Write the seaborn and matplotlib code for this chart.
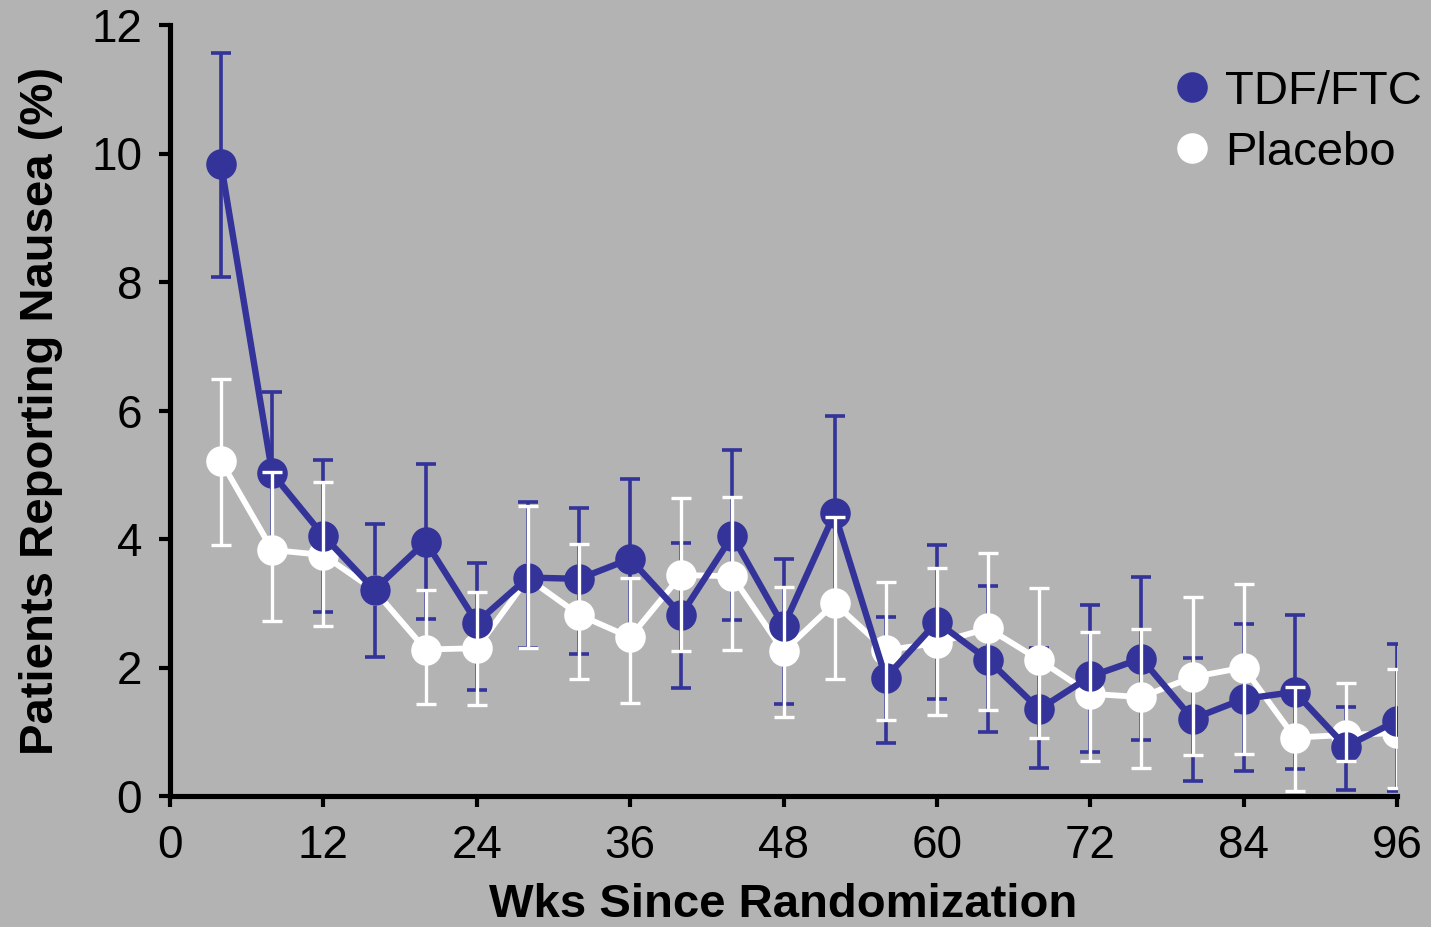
import numpy as np
import pandas as pd
import matplotlib
matplotlib.use("Agg")
import matplotlib.pyplot as plt
from matplotlib.lines import Line2D
import seaborn as sns

# ---- data ----
weeks = [4, 8, 12, 16, 20, 24, 28, 32, 36, 40, 44, 48,
         52, 56, 60, 64, 68, 72, 76, 80, 84, 88, 92, 96]

tdf = [9.83, 5.02, 4.05, 3.21, 3.96, 2.70, 3.40, 3.38, 3.69, 2.82, 4.05, 2.64,
       4.40, 1.84, 2.71, 2.12, 1.35, 1.86, 2.14, 1.20, 1.51, 1.62, 0.77, 1.17]
tdf_lo = [8.08, 3.95, 2.87, 2.16, 2.76, 1.65, 2.30, 2.21, 2.55, 1.68, 2.74, 1.43,
          3.10, 0.82, 1.51, 0.99, 0.44, 0.68, 0.87, 0.24, 0.39, 0.42, 0.10, 0.08]
tdf_hi = [11.57, 6.29, 5.23, 4.24, 5.16, 3.63, 4.57, 4.48, 4.94, 3.94, 5.39, 3.69,
          5.92, 2.79, 3.90, 3.27, 2.30, 2.98, 3.41, 2.15, 2.67, 2.82, 1.39, 2.36]

placebo = [5.21, 3.83, 3.75, 3.20, 2.28, 2.30, 3.39, 2.82, 2.47, 3.44, 3.42, 2.25,
           3.00, 2.27, 2.38, 2.61, 2.12, 1.59, 1.54, 1.85, 2.00, 0.91, 0.95, 0.98]
placebo_lo = [3.90, 2.73, 2.64, np.nan, 1.43, 1.42, 2.30, 1.82, 1.45, 2.25, 2.27, 1.23,
              1.82, 1.19, 1.26, 1.34, 0.91, 0.54, 0.44, 0.64, 0.65, 0.08, 0.55, 0.12]
placebo_hi = [6.49, 5.05, 4.88, np.nan, 3.20, 3.18, 4.51, 3.92, 3.40, 4.64, 4.65, 3.25,
              4.35, 3.33, 3.55, 3.78, 3.23, 2.56, 2.60, 3.09, 3.30, 1.70, 1.76, 1.98]

series_names = ["TDF/FTC", "Placebo"]
x_ticks = [0, 12, 24, 36, 48, 60, 72, 84, 96]
y_ticks = [0, 2, 4, 6, 8, 10, 12]

BLUE = "#333399"
WHITE = "#ffffff"
BG = "#b3b3b3"

df = pd.DataFrame({"week": weeks * 2,
                   "pct": tdf + placebo,
                   "group": [series_names[0]] * len(weeks) + [series_names[1]] * len(weeks)})

sns.set_theme(style="ticks")
plt.rcParams["font.family"] = ["Liberation Sans", "DejaVu Sans"]
plt.rcParams["text.color"] = "black"
plt.rcParams["axes.labelcolor"] = "black"

fig = plt.figure(figsize=(14.31, 9.27), dpi=100, facecolor=BG)
ax = fig.add_axes([170 / 1431, 1 - 796 / 927, (1397 - 170) / 1431, (796 - 25) / 927])
ax.set_facecolor(BG)

# TDF error bars (lowest layer)
t = np.array(tdf)
ax.errorbar(weeks, tdf,
            yerr=[t - np.array(tdf_lo), np.array(tdf_hi) - t],
            fmt="none", ecolor=BLUE, elinewidth=2.6, capsize=7, capthick=2.6, zorder=2)

# lines with markers via seaborn
sub_p = df[df.group == "Placebo"]
sub_t = df[df.group == "TDF/FTC"]
sns.lineplot(data=sub_p, x="week", y="pct", ax=ax, color=WHITE, linewidth=4.2,
             marker="o", markersize=22, markeredgewidth=0, zorder=3, legend=False)
sns.lineplot(data=sub_t, x="week", y="pct", ax=ax, color=BLUE, linewidth=4.6,
             marker="o", markersize=22, markeredgewidth=0, zorder=4, legend=False)

# placebo error bars (top layer)
p = np.array(placebo)
ax.errorbar(weeks, placebo,
            yerr=[p - np.array(placebo_lo), np.array(placebo_hi) - p],
            fmt="none", ecolor=WHITE, elinewidth=2.4, capsize=7, capthick=2.4, zorder=5)

ax.set_xlim(0, 96)
ax.set_ylim(0, 12)
ax.set_xticks(x_ticks)
ax.set_yticks(y_ticks)
ax.tick_params(axis="both", labelsize=33, width=3, length=8, color="black",
               labelcolor="black", pad=12, direction="out")
for s in ["top", "right"]:
    ax.spines[s].set_visible(False)
for s in ["left", "bottom"]:
    ax.spines[s].set_linewidth(3.7)
    ax.spines[s].set_color("black")
ax.spines["left"].set_zorder(6)
ax.spines["bottom"].set_zorder(6)

ax.set_xlabel("Wks Since Randomization", fontsize=34, fontweight="bold", labelpad=11, color="black")
ax.set_ylabel("Patients Reporting Nausea (%)", fontsize=34, fontweight="bold", labelpad=20, color="black")

handles = [Line2D([], [], linestyle="none", marker="o", markersize=22,
                  markerfacecolor=c, markeredgewidth=0) for c in (BLUE, WHITE)]
fig.legend(handles, series_names, loc="upper left",
           bbox_to_anchor=(1176 / 1431, 1 - 70 / 927), frameon=False,
           fontsize=34, handlelength=0.66, handletextpad=0.37,
           borderpad=0, borderaxespad=0, labelspacing=0.36, labelcolor="black")

fig.savefig("out.png", dpi=100, facecolor=BG)
